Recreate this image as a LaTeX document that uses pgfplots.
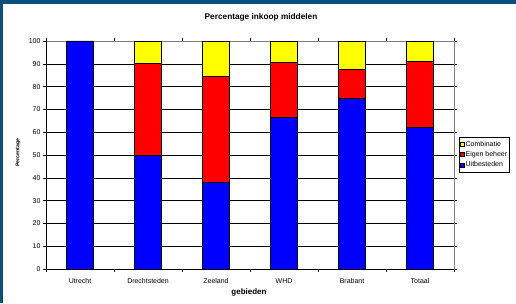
\documentclass[border=0pt]{standalone}
\usepackage{pgfplots}
\pgfplotsset{compat=1.18}
\usepackage{fontspec}
\setmainfont{Liberation Sans}
\definecolor{frameblue}{HTML}{0B4F7A}
\definecolor{cyellow}{HTML}{FFFF00}
\definecolor{cred}{HTML}{FF0000}
\definecolor{cblue}{HTML}{0000FF}
\begin{document}
\begin{tikzpicture}[x=1bp,y=1bp]
\fill[frameblue] (0,0) rectangle (516,303);
\fill[white] (3,0) rectangle (516,299);
\begin{axis}[
  at={(46bp,34bp)}, anchor=south west,
  scale only axis, width=408bp, height=228bp,
  xmin=-0.5, xmax=5.5, ymin=0, ymax=100,
  ybar stacked, bar width=27bp,
  xtick={0,1,2,3,4,5},
  xticklabels={Utrecht,Drechtsteden,Zeeland,WHD,Brabant,Totaal},
  major x tick style={draw=none},
  minor xtick={-0.5,0.5,1.5,2.5,3.5,4.5,5.5},
  minor tick length=3bp,
  minor x tick style={black, line width=0.6pt},
  ytick={0,10,...,100},
  tick align=outside, major tick length=3bp,
  y tick style={black, line width=0.6pt},
  ymajorgrids, grid style={black, line width=0.6pt},
  axis line style={gray, line width=0.8pt},
  tick label style={font=\fontsize{7}{8}\selectfont},
  xticklabel style={yshift=-3bp},
  yticklabel style={xshift=1bp},
  /pgf/number format/assume math mode=true,
  every axis title shift=0pt,
  title={\textbf{Percentage inkoop middelen}},
  title style={at={(0.527,1.105)}, anchor=center, font=\fontsize{8.3}{9}\selectfont},
  xlabel={\textbf{gebieden}},
  xlabel style={at={(0.4975,-0.103)}, anchor=center, font=\fontsize{8}{9}\selectfont},
  ylabel={\textbf{Percentage}},
  ylabel style={at={(-0.0686,0.511)}, anchor=center, font=\fontsize{5.3}{6}\selectfont},
  legend style={at={(1.012,0.578)}, anchor=north west, draw=black, line width=0.6pt,
    font=\fontsize{7}{8.5}\selectfont, row sep=2bp, inner xsep=0.5bp, inner ysep=3bp,
    nodes={inner xsep=1.5bp, inner ysep=0.8bp}, cells={anchor=west}},
  reverse legend,
  legend image code/.code={\draw[#1, draw=black, line width=0.5pt] (0bp,-2bp) rectangle (4bp,2bp);},
  clip=false,
]
\addplot[fill=cblue, draw=black, line width=0.7pt] coordinates {(0,100) (1,50) (2,38) (3,66.5) (4,75) (5,62)};
\addlegendentry{Uitbesteden}
\addplot[fill=cred, draw=black, line width=0.7pt] coordinates {(0,0) (1,40) (2,46.5) (3,24) (4,12.5) (5,29)};
\addlegendentry{Eigen beheer}
\addplot[fill=cyellow, draw=black, line width=0.7pt] coordinates {(0,0) (1,10) (2,15.5) (3,9.5) (4,12.5) (5,9)};
\addlegendentry{Combinatie}
\draw[black, line width=0.8pt] (rel axis cs:0,0) -- (rel axis cs:0,1);
\draw[black, line width=0.8pt] (rel axis cs:0,0) -- (rel axis cs:1,0);
\end{axis}
\end{tikzpicture}
\end{document}
